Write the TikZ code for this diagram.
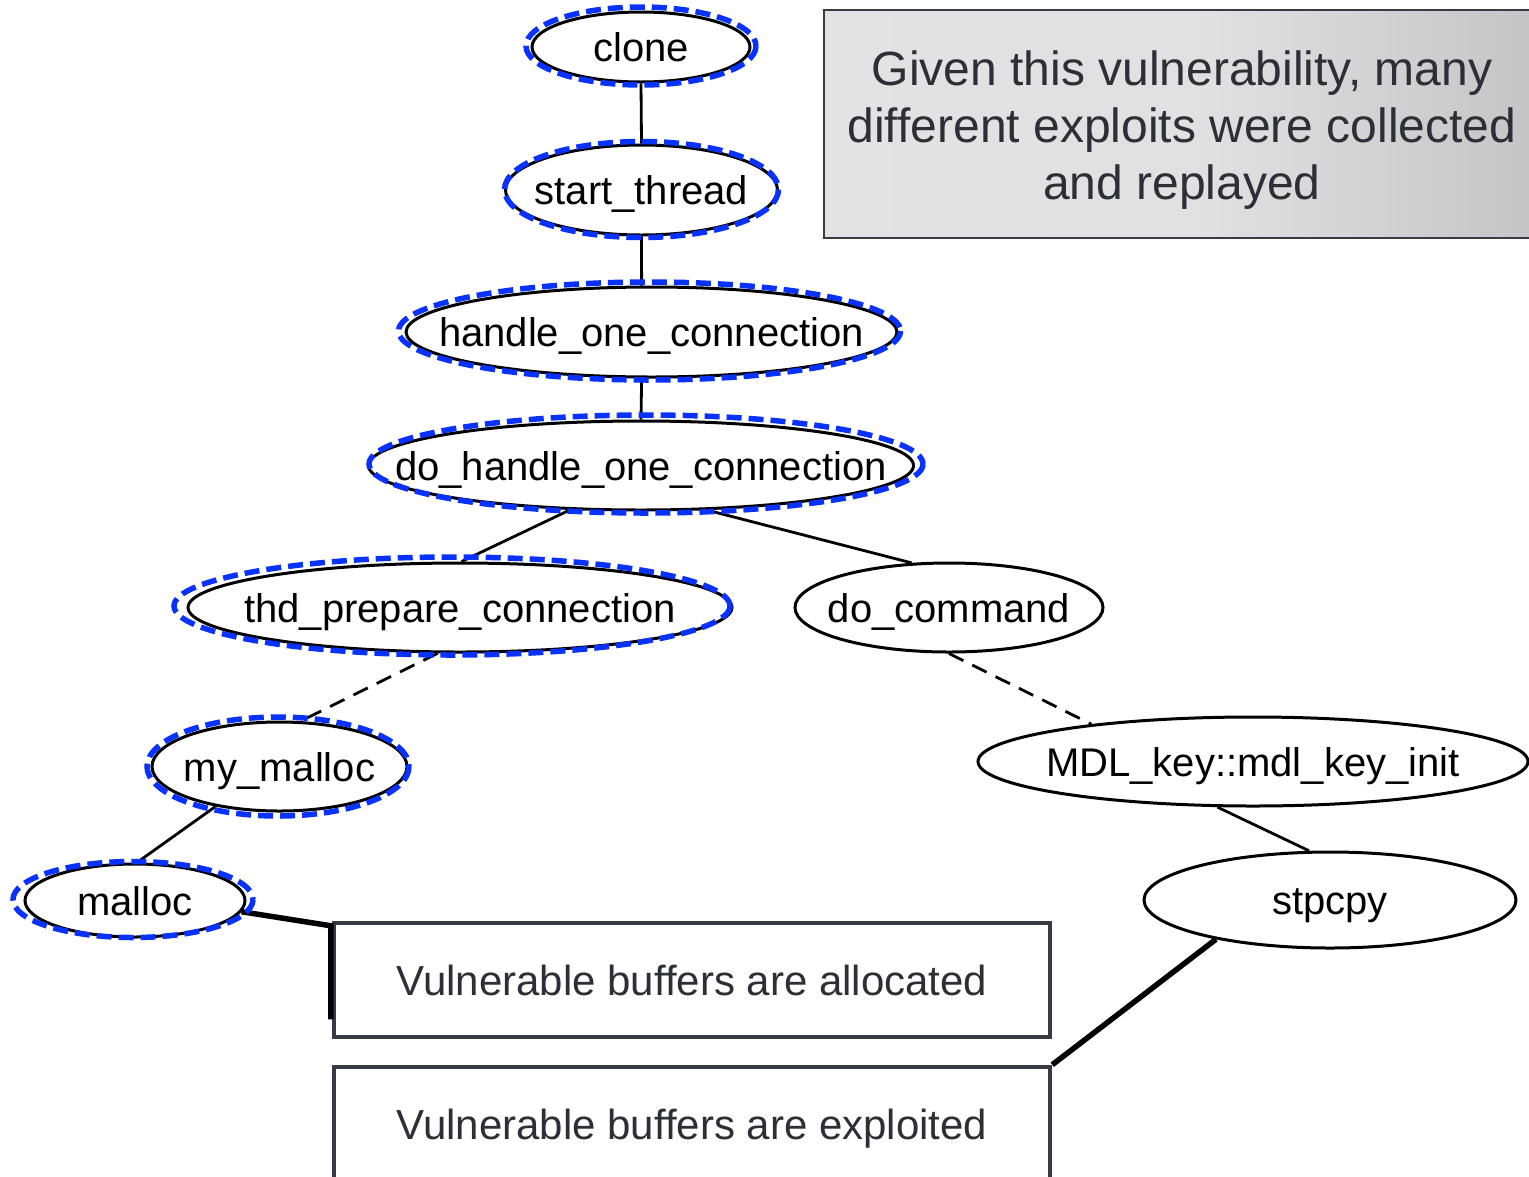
\documentclass[tikz,border=0pt]{standalone}
\usepackage{fontspec}
\setmainfont{Liberation Sans}
\usetikzlibrary{shapes.geometric,backgrounds,calc}
\definecolor{hiblue}{RGB}{10,50,255}
\definecolor{boxline}{RGB}{58,58,70}
\definecolor{boxtext}{RGB}{46,46,54}
\pgfdeclarehorizontalshading{notegray}{100bp}{color(0bp)=(black!11); color(25bp)=(black!11); color(52bp)=(black!12); color(75bp)=(black!23); color(100bp)=(black!23)}
\newcommand\ctr[1]{\makebox[0pt]{#1}}
\begin{document}
\begin{tikzpicture}[x=1pt,y=-1pt,
  fn/.style={ellipse, draw=black, fill=white, line width=3pt, inner sep=0pt,
    text height=29pt, text depth=0pt, font=\fontsize{40}{48}\selectfont},
  edge/.style={line width=2.8pt},
  dashedge/.style={line width=2.8pt, dash pattern=on 16pt off 10pt},
  strong/.style={line width=5.5pt},
  hilite/.style={draw=hiblue, line width=5.5pt, dash pattern=on 15pt off 7pt},
  hishadow/.style={draw=black, opacity=0.16, dash pattern=on 15pt off 7pt},
  textbox/.style={rectangle, draw=boxline, line width=4.5pt, fill=white,
    minimum width=716pt, minimum height=114pt, inner sep=0pt, text=boxtext,
    font=\fontsize{42}{50}\selectfont},
  notebox/.style={rectangle, draw=boxline, line width=2.5pt, shading=notegray,
    minimum width=716pt, minimum height=228pt, inner sep=0pt, text=boxtext,
    align=center, font=\fontsize{48}{57}\selectfont},
]
\useasboundingbox (0,0) rectangle (1529,1176);
\fill[white] (0,0) rectangle (1529,1176);
\clip (0,0) rectangle (1529,1176);

% call-graph nodes
\node[fn, minimum width=218pt, minimum height=70pt] (clone) at (641,47) {\ctr{clone}};
\node[fn, minimum width=272pt, minimum height=90pt] (st) at (641.5,190) {\ctr{start\_thread}};
\node[fn, minimum width=491pt, minimum height=90pt] (hoc) at (651.5,332) {\ctr{handle\_one\_connection}};
\node[fn, minimum width=545pt, minimum height=89pt] (dh) at (641,465.5) {\ctr{do\_handle\_one\_connection}};
\node[fn, minimum width=544pt, minimum height=89pt] (thd) at (460,607.5) {\ctr{thd\_prepare\_connection}};
\node[fn, minimum width=308pt, minimum height=89pt] (dc) at (949,607.5) {\ctr{do\_command}};
\node[fn, minimum width=255pt, minimum height=89pt] (mym) at (279.5,766.5) {\ctr{my\_malloc}};
\node[fn, minimum width=220pt, minimum height=73pt] (mal) at (135,900.5) {\ctr{malloc}};
\node[fn, minimum width=550pt, minimum height=89pt] (mdl) at (1253,761.5) {\ctr{MDL\_key::mdl\_key\_init}};
\node[fn, minimum width=372pt, minimum height=96pt] (stp) at (1330,900) {\ctr{stpcpy}};

% annotation boxes
\node[notebox] (note) at (1182,124) {\rule{0pt}{47pt}Given this vulnerability, many\\different exploits were collected\\and replayed};
\node[textbox] (box1) at (692,980) {Vulnerable buffers are allocated};
\node[textbox, minimum height=124pt] (box2) at (692,1129) {Vulnerable buffers are exploited};

% call edges
\draw[edge] (clone.270) -- (st.90);
\draw[edge] (st.270) -- (hoc.102);
\draw[edge] (hoc.258) -- (dh.90);
\draw[edge] (dh.212) -- (thd.88);
\draw[edge] (dh.326) -- (dc.130);
\draw[dashedge] (thd.244) -- (mym.65);
\draw[edge] (mym.212) -- (mal.87);
\draw[dashedge] (dc.270) -- (mdl.167);
\draw[edge] (mdl.232) -- (stp.113);

% links to the annotation boxes
\draw[strong] (mal.354) -- ([xshift=-1pt,yshift=-5pt]box1.north west) -- ([xshift=-1pt,yshift=20pt]box1.south west);
\draw[strong] (stp.199) -- (box2.north east);

% highlighted call path: dashed blue rings with a soft shadow
\foreach \n/\dx/\dy/\ra/\rb in {clone/0/-1/115/39, st/0/-0.5/137/48, hoc/-2/-1/251/49,
    dh/5/-1.5/277/49, thd/-8/-1.5/278/49, mym/-1.5/0/131/49.5, mal/-2/-1/120/38} {
  \begin{scope}[on background layer]
    \foreach \w in {12,9,6} {
      \draw[hishadow, line width=\w pt] ([shift={(\dx+3,\dy+4)}]\n.center) ellipse [x radius=\ra, y radius=\rb];
    }
  \end{scope}
  \draw[hilite] ([shift={(\dx,\dy)}]\n.center) ellipse [x radius=\ra, y radius=\rb];
}
\end{tikzpicture}
\end{document}
